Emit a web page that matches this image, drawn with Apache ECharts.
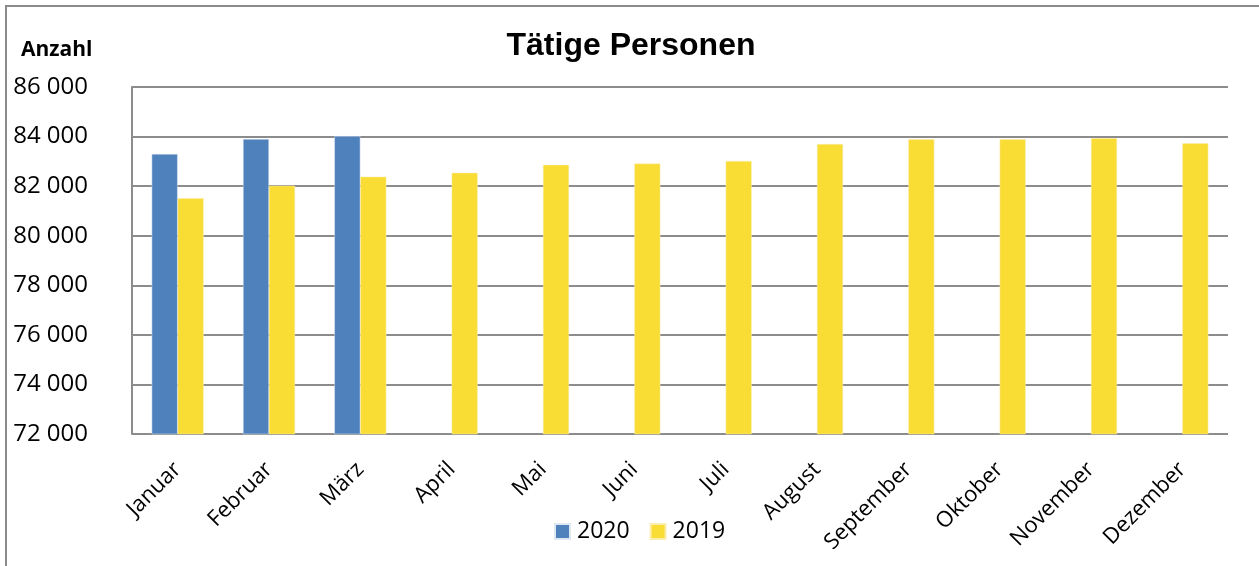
<!DOCTYPE html>
<html><head><meta charset="utf-8">
<script src="https://cdn.jsdelivr.net/npm/echarts@6/dist/echarts.min.js"></script>
<style>
html,body{margin:0;padding:0;background:#fff;overflow:hidden}
#frame{position:absolute;left:5px;top:5px;width:1300px;height:600px;border:2px solid #8a8a8a;box-sizing:border-box}
#c{position:absolute;left:0;top:0;width:1259px;height:566px}
</style></head>
<body>
<div id="frame"></div>
<div id="c"></div>
<script>
const categories = ['Januar','Februar','März','April','Mai','Juni','Juli','August','September','Oktober','November','Dezember'];
const values2020 = [83300, 83900, 84020, null, null, null, null, null, null, null, null, null];
const values2019 = [81510, 82020, 82380, 82540, 82860, 82910, 83010, 83700, 83890, 83890, 83930, 83730];
const yMin = 72000, yMax = 86000, yStep = 2000;

const FONT = '"Open Sans", Lato, sans-serif';
const chart = echarts.init(document.getElementById('c'), null, {renderer:'canvas'});
const fmt = v => String(v).replace(/\B(?=(\d{3})+(?!\d))/g, ' ');
chart.setOption({
  animation:false,
  backgroundColor:'transparent',
  title:{text:'Tätige Personen', left:626, top:25, textAlign:'center',
    textStyle:{fontFamily:'Liberation Sans, Arial', fontWeight:'bold', fontSize:32, color:'#000'}},
  graphic:[{type:'text', left:21, top:40, style:{text:'Anzahl', font:'bold 21px "Open Sans", Lato, sans-serif', fill:'#000'}}],
  legend:{top:515, left:549, itemWidth:15, itemHeight:15, itemGap:20, icon:'rect',
    textStyle:{fontFamily:FONT, fontSize:23, color:'#000', padding:[0,0,0,2]},
    data:['2020','2019']},
  grid:{left:132, right:31, top:87, bottom:132, containLabel:false},
  xAxis:{type:'category', data:categories,
    axisLine:{show:false}, axisTick:{show:false},
    axisLabel:{rotate:45, interval:0, fontFamily:FONT, fontSize:22, color:'#000', margin:32}},
  yAxis:{type:'value', min:yMin, max:yMax, interval:yStep,
    axisLine:{show:true, lineStyle:{color:'#8c8c8c', width:2}},
    axisTick:{show:false},
    splitLine:{lineStyle:{color:'#8c8c8c', width:2}},
    axisLabel:{formatter:fmt, fontFamily:FONT, fontSize:24, color:'#000', margin:44}},
  series:[
    {name:'2020', type:'bar', data:values2020, barWidth:26, barGap:'0%',
      itemStyle:{color:'#4f81bd', borderColor:'#dfe7f2', borderWidth:0.5}},
    {name:'2019', type:'bar', data:values2019, barWidth:26, barGap:'0%',
      itemStyle:{color:'#f9dc34', borderColor:'#fbeeb0', borderWidth:0.5}}
  ]
});
</script>
</body></html>
